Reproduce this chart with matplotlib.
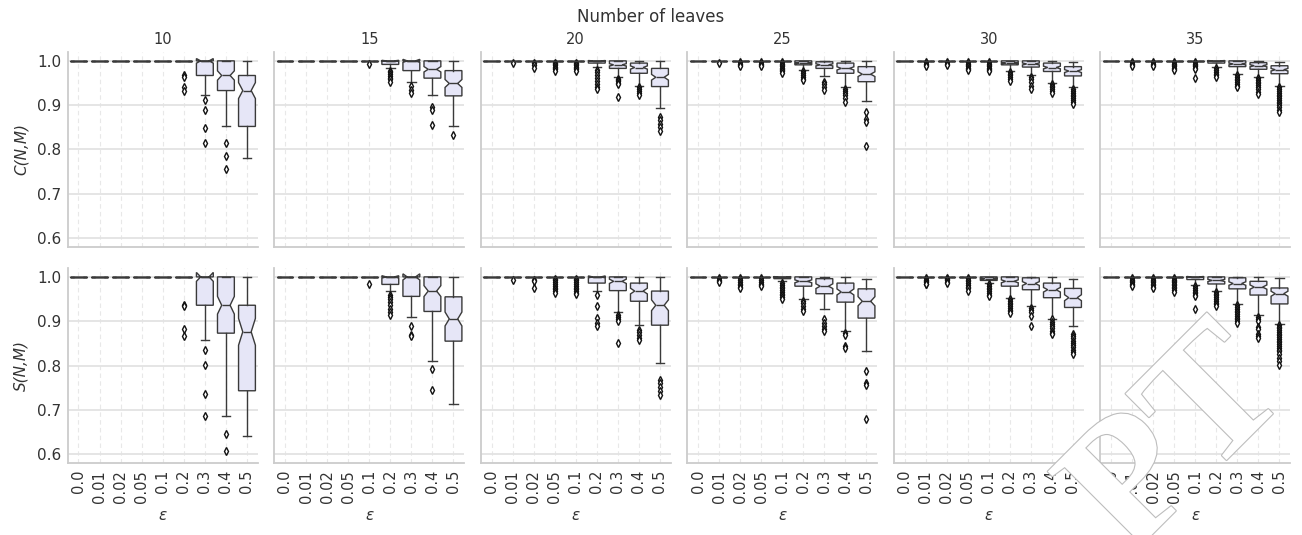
import matplotlib
matplotlib.use("Agg")
import matplotlib.pyplot as plt
import matplotlib.patheffects as pe
import numpy as np

# ---- data: box statistics ----
leaves = [10, 15, 20, 25, 30, 35]
eps_labels = ["0.0", "0.01", "0.02", "0.05", "0.1", "0.2", "0.3", "0.4", "0.5"]
n_runs = 100  # used only for the notch width

# C(N,M)  -- one list of 9 values per number of leaves
c_q1 = [
    [1, 1, 1, 1, 1, 1, 0.967, 0.933, 0.852],
    [1, 1, 1, 1, 1, 0.992, 0.978, 0.961, 0.921],
    [1, 1, 1, 1, 1, 0.995, 0.983, 0.972, 0.942],
    [1, 1, 1, 1, 1, 0.991, 0.983, 0.972, 0.953],
    [1, 1, 1, 1, 1, 0.991, 0.986, 0.976, 0.966],
    [1, 1, 1, 1, 1, 0.995, 0.987, 0.981, 0.971],
]
c_med = [
    [1, 1, 1, 1, 1, 1, 1.0, 0.967, 0.933],
    [1, 1, 1, 1, 1, 1.0, 1.0, 0.981, 0.949],
    [1, 1, 1, 1, 1, 1.0, 0.991, 0.985, 0.963],
    [1, 1, 1, 1, 1, 0.995, 0.991, 0.983, 0.970],
    [1, 1, 1, 1, 1, 0.995, 0.993, 0.985, 0.977],
    [1, 1, 1, 1, 1, 1.0, 0.993, 0.989, 0.980],
]
c_q3 = [
    [1, 1, 1, 1, 1, 1, 1.0, 1.0, 0.967],
    [1, 1, 1, 1, 1, 1.0, 1.0, 1.0, 0.978],
    [1, 1, 1, 1, 1, 1.0, 1.0, 0.995, 0.983],
    [1, 1, 1, 1, 1, 1.0, 0.998, 0.995, 0.987],
    [1, 1, 1, 1, 1, 1.0, 1.0, 0.995, 0.987],
    [1, 1, 1, 1, 1, 1.0, 1.0, 0.996, 0.989],
]
c_lo = [
    [1, 1, 1, 1, 1, 1, 0.924, 0.853, 0.781],
    [1, 1, 1, 1, 1, 0.983, 0.953, 0.924, 0.854],
    [1, 1, 1, 1, 1, 0.987, 0.963, 0.943, 0.893],
    [1, 1, 1, 1, 1, 0.980, 0.965, 0.940, 0.909],
    [1, 1, 1, 1, 1, 0.978, 0.968, 0.951, 0.940],
    [1, 1, 1, 1, 1, 0.987, 0.971, 0.963, 0.943],
]
c_hi = [
    [1, 1, 1, 1, 1, 1, 1, 1, 1],
    [1, 1, 1, 1, 1, 1, 1, 1, 1],
    [1, 1, 1, 1, 1, 1, 1, 1, 1],
    [1, 1, 1, 1, 1, 1, 1, 1, 1],
    [1, 1, 1, 1, 1, 1, 1, 1, 0.998],
    [1, 1, 1, 1, 1, 1, 1, 1, 0.998],
]
c_fliers = [
    [[], [], [], [], [], [0.967, 0.964, 0.940, 0.933],
     [0.911, 0.890, 0.849, 0.814], [0.814, 0.786, 0.757], []],
    [[], [], [], [], [0.992],
     [0.978, 0.974, 0.970, 0.966, 0.962, 0.958, 0.953],
     [0.943, 0.934, 0.927], [0.897, 0.888, 0.855], [0.832]],
    [[], [0.995], [0.995, 0.990, 0.985],
     [0.996, 0.993, 0.990, 0.987, 0.984, 0.981, 0.978],
     [0.996, 0.993, 0.990, 0.987, 0.984, 0.981, 0.977],
     [0.980, 0.974, 0.968, 0.961, 0.955, 0.948, 0.942, 0.936],
     [0.960, 0.957, 0.954, 0.951, 0.948, 0.919],
     [0.940, 0.936, 0.932, 0.928, 0.924],
     [0.874, 0.866, 0.858, 0.850, 0.842]],
    [[], [0.996], [0.997, 0.994, 0.991, 0.988], [0.997, 0.994, 0.991, 0.988],
     [0.997, 0.994, 0.991, 0.988, 0.985, 0.982, 0.979, 0.976, 0.973],
     [0.976, 0.972, 0.968, 0.964, 0.960, 0.957],
     [0.953, 0.948, 0.940, 0.934],
     [0.936, 0.932, 0.928, 0.924, 0.916, 0.908],
     [0.884, 0.868, 0.863, 0.808]],
    [[], [0.997, 0.994, 0.991, 0.988], [0.997, 0.994, 0.991],
     [0.997, 0.994, 0.991, 0.988, 0.985, 0.982, 0.980],
     [0.997, 0.994, 0.991, 0.988, 0.985, 0.982, 0.979, 0.976],
     [0.975, 0.971, 0.967, 0.963, 0.959, 0.955],
     [0.964, 0.958, 0.952, 0.944, 0.936],
     [0.948, 0.944, 0.940, 0.936, 0.932, 0.927],
     [0.936, 0.932, 0.928, 0.924, 0.920, 0.916, 0.912, 0.908, 0.903]],
    [[], [0.997, 0.994, 0.991, 0.989], [0.997, 0.994, 0.991, 0.988],
     [0.997, 0.994, 0.991, 0.988, 0.985, 0.982, 0.980],
     [0.997, 0.994, 0.991, 0.988, 0.985, 0.982, 0.962],
     [0.983, 0.979, 0.975, 0.971, 0.967, 0.963],
     [0.968, 0.964, 0.960, 0.956, 0.952, 0.948, 0.944, 0.942],
     [0.961, 0.957, 0.953, 0.949, 0.945, 0.941, 0.936, 0.930, 0.925],
     [0.940, 0.936, 0.932, 0.928, 0.924, 0.920, 0.916, 0.912, 0.908,
      0.904, 0.900, 0.895, 0.890, 0.885]],
]

# S(N,M)
s_q1 = [
    [1, 1, 1, 1, 1, 1, 0.936, 0.873, 0.743],
    [1, 1, 1, 1, 1, 0.983, 0.956, 0.922, 0.855],
    [1, 1, 1, 1, 1, 0.986, 0.969, 0.945, 0.891],
    [1, 1, 1, 1, 0.996, 0.979, 0.962, 0.943, 0.907],
    [1, 1, 1, 1, 0.992, 0.979, 0.971, 0.953, 0.931],
    [1, 1, 1, 1, 0.994, 0.984, 0.973, 0.959, 0.939],
]
s_med = [
    [1, 1, 1, 1, 1, 1, 1.0, 0.936, 0.876],
    [1, 1, 1, 1, 1, 1.0, 1.0, 0.968, 0.905],
    [1, 1, 1, 1, 1, 1.0, 0.990, 0.968, 0.936],
    [1, 1, 1, 1, 1.0, 0.990, 0.979, 0.966, 0.945],
    [1, 1, 1, 1, 0.996, 0.990, 0.985, 0.971, 0.953],
    [1, 1, 1, 1, 1.0, 0.992, 0.985, 0.977, 0.962],
]
s_q3 = [
    [1, 1, 1, 1, 1, 1, 1.0, 1.0, 0.936],
    [1, 1, 1, 1, 1, 1.0, 1.0, 1.0, 0.955],
    [1, 1, 1, 1, 1, 1.0, 1.0, 0.986, 0.968],
    [1, 1, 1, 1, 1.0, 1.0, 0.996, 0.986, 0.973],
    [1, 1, 1, 1, 1.0, 1.0, 0.998, 0.986, 0.974],
    [1, 1, 1, 1, 1.0, 1.0, 0.998, 0.990, 0.975],
]
s_lo = [
    [1, 1, 1, 1, 1, 1, 0.858, 0.687, 0.640],
    [1, 1, 1, 1, 1, 0.968, 0.909, 0.810, 0.712],
    [1, 1, 1, 1, 1, 0.969, 0.921, 0.891, 0.806],
    [1, 1, 1, 1, 0.990, 0.951, 0.928, 0.879, 0.832],
    [1, 1, 1, 1, 0.986, 0.953, 0.934, 0.906, 0.889],
    [1, 1, 1, 1, 0.982, 0.968, 0.939, 0.913, 0.894],
]
s_hi = [
    [1, 1, 1, 1, 1, 1, 1, 1, 1],
    [1, 1, 1, 1, 1, 1, 1, 1, 1],
    [1, 1, 1, 1, 1, 1, 1, 1, 1],
    [1, 1, 1, 1, 1, 1, 1, 1, 0.996],
    [1, 1, 1, 1, 1, 1, 1, 1, 0.995],
    [1, 1, 1, 1, 1, 1, 1, 1, 0.998],
]
s_fliers = [
    [[], [], [], [], [], [0.937, 0.934, 0.883, 0.866],
     [0.834, 0.802, 0.736, 0.686], [0.646, 0.608], []],
    [[], [], [], [], [0.984],
     [0.960, 0.955, 0.950, 0.944, 0.936, 0.928, 0.920, 0.915],
     [0.889, 0.869, 0.866], [0.791, 0.745], []],
    [[], [0.994], [0.994, 0.990, 0.975],
     [0.996, 0.992, 0.988, 0.984, 0.980, 0.976, 0.972, 0.968, 0.964],
     [0.996, 0.992, 0.988, 0.984, 0.980, 0.976, 0.972, 0.968, 0.964, 0.962],
     [0.960, 0.934, 0.907, 0.895, 0.889],
     [0.915, 0.910, 0.905, 0.900, 0.851],
     [0.881, 0.875, 0.868, 0.862, 0.858],
     [0.768, 0.760, 0.752, 0.742, 0.734]],
    [[], [0.997, 0.994, 0.991, 0.989],
     [0.997, 0.993, 0.989, 0.985, 0.981, 0.978, 0.975],
     [0.997, 0.993, 0.989, 0.985, 0.981, 0.979],
     [0.986, 0.982, 0.978, 0.974, 0.970, 0.966, 0.962, 0.958, 0.954, 0.949],
     [0.945, 0.940, 0.934, 0.928, 0.922],
     [0.904, 0.896, 0.890, 0.883, 0.877],
     [0.873, 0.868, 0.844, 0.840],
     [0.787, 0.760, 0.756, 0.679]],
    [[], [0.997, 0.994, 0.991, 0.988, 0.985, 0.983],
     [0.998, 0.995, 0.992, 0.989, 0.986],
     [0.998, 0.994, 0.990, 0.986, 0.982, 0.978, 0.974, 0.969],
     [0.984, 0.980, 0.976, 0.972, 0.968, 0.964, 0.960, 0.956],
     [0.950, 0.946, 0.942, 0.938, 0.934, 0.930, 0.926, 0.922, 0.919],
     [0.930, 0.925, 0.920, 0.911, 0.889],
     [0.904, 0.899, 0.894, 0.889, 0.884, 0.879, 0.874, 0.870],
     [0.871, 0.866, 0.861, 0.856, 0.851, 0.846, 0.841, 0.836, 0.831, 0.825]],
    [[], [0.997, 0.994, 0.991, 0.988, 0.985, 0.982, 0.979],
     [0.997, 0.994, 0.991, 0.988, 0.985, 0.982, 0.978, 0.975],
     [0.997, 0.994, 0.991, 0.988, 0.985, 0.982, 0.978, 0.974, 0.970, 0.966],
     [0.979, 0.975, 0.971, 0.967, 0.963, 0.959, 0.956, 0.928],
     [0.966, 0.962, 0.958, 0.954, 0.950, 0.946, 0.942, 0.938, 0.934],
     [0.936, 0.932, 0.928, 0.924, 0.920, 0.916, 0.912, 0.908, 0.904, 0.900, 0.896],
     [0.909, 0.905, 0.900, 0.887, 0.883, 0.872, 0.866, 0.862],
     [0.892, 0.888, 0.884, 0.880, 0.876, 0.872, 0.868, 0.864, 0.860, 0.856,
      0.852, 0.848, 0.844, 0.840, 0.836, 0.832, 0.826, 0.818, 0.810, 0.802]],
]

rows = [
    ("C(N,M)", c_q1, c_med, c_q3, c_lo, c_hi, c_fliers),
    ("S(N,M)", s_q1, s_med, s_q3, s_lo, s_hi, s_fliers),
]

# ---- style ----
box_face = "#e6e6f7"
line_col = "#3a3a3a"
text_col = "#333333"

fig, axes = plt.subplots(2, 6, figsize=(13.02, 5.35), dpi=100, sharex=True, sharey=True)
fig.subplots_adjust(left=0.0522, right=0.9908, top=0.9028, bottom=0.1346,
                    wspace=0.0895, hspace=0.108)

for r, (ylab, q1s, meds, q3s, los, his, fls) in enumerate(rows):
    for p, nl in enumerate(leaves):
        ax = axes[r, p]
        stats = []
        for k in range(len(eps_labels)):
            q1, med, q3 = q1s[p][k], meds[p][k], q3s[p][k]
            half = 1.57 * (q3 - q1) / np.sqrt(n_runs)
            stats.append(dict(q1=q1, med=med, q3=q3,
                              whislo=los[p][k], whishi=his[p][k],
                              fliers=fls[p][k], cilo=med - half, cihi=med + half))
        ax.bxp(stats, positions=range(len(eps_labels)), widths=0.8,
               patch_artist=True, shownotches=True,
               boxprops=dict(facecolor=box_face, edgecolor=line_col, linewidth=1.0),
               medianprops=dict(color=line_col, linewidth=1.0),
               whiskerprops=dict(color=line_col, linewidth=1.0),
               capprops=dict(color=line_col, linewidth=1.0),
               flierprops=dict(marker="d", markersize=4, markerfacecolor="white",
                               markeredgecolor="#111111", markeredgewidth=1.0))

        ax.set_xlim(-0.5, 8.5)
        ax.set_ylim(0.58, 1.02)
        ax.set_yticks([0.6, 0.7, 0.8, 0.9, 1.0])
        ax.set_axisbelow(True)
        ax.yaxis.grid(True, color="#e3e3e3", linewidth=1.3, linestyle="-")
        ax.xaxis.grid(True, color="#e8e8e8", linewidth=0.8, linestyle=(0, (4, 3)))
        for s in ("top", "right"):
            ax.spines[s].set_visible(False)
        for s in ("left", "bottom"):
            ax.spines[s].set_color("#cccccc")
            ax.spines[s].set_linewidth(1.3)
        ax.tick_params(length=0, labelsize=11, labelcolor=text_col, pad=5)
        ax.set_xticks(range(len(eps_labels)))
        ax.set_xticklabels(eps_labels, rotation=90, fontsize=10.5)
        if r == 0:
            ax.set_title(str(nl), fontsize=10.5, color=text_col, pad=6)
        else:
            ax.set_xlabel("ε", fontsize=11, color=text_col, style="italic", labelpad=4)
        if p == 0:
            ax.set_ylabel(ylab, fontsize=11, color=text_col, style="italic", labelpad=6)

fig.text(0.5, 0.968, "Number of leaves", ha="center", va="center",
         fontsize=12, color=text_col)

# watermark fragment in the lower right corner (rest of it lies off the page)
fig.text(1180 / 1302, 1 - 445 / 535, "PT", ha="center", va="center",
         rotation=45, fontsize=130, family="Liberation Serif", fontweight="bold",
         color="white", zorder=10,
         path_effects=[pe.withStroke(linewidth=1.6, foreground="#bdbdbd")])

fig.savefig("out.png", dpi=100, facecolor="white")
